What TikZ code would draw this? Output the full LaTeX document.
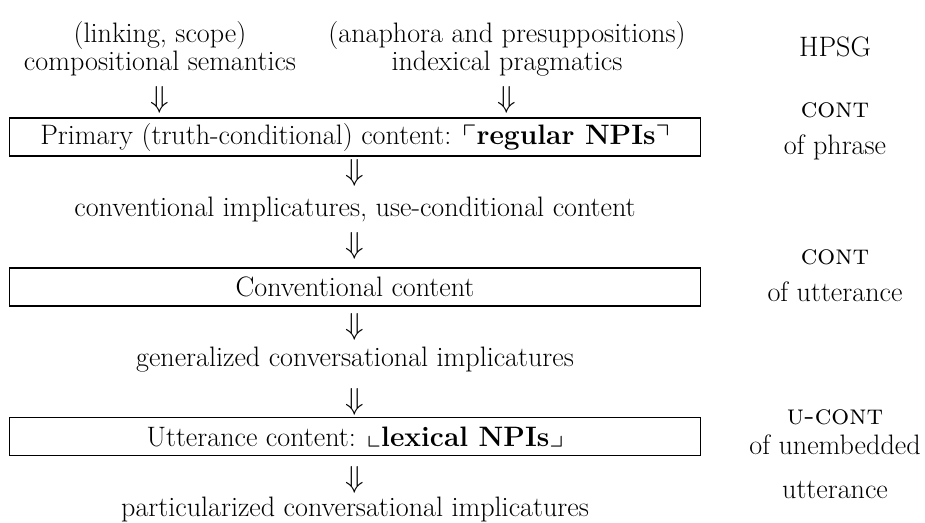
\documentclass[tikz,border=0pt]{standalone}
\usepackage{amssymb}
\begin{document}
\begin{tikzpicture}[x=0.02cm,y=-0.02cm,every node/.style={font=\fontsize{16}{19}\selectfont,inner sep=0pt},txt/.style={anchor=base},dn/.style={anchor=center},level/.style={draw,line width=0.6pt,minimum width=13.84cm,minimum height=0.76cm},hpsg/.style={anchor=base}]
\def\cx{355};
\def\lx{160};
\def\rx{507};
\def\hx{835};

\useasboundingbox (0,0) rectangle (925,523);

% input sources
\node[txt] (link) at (\lx,43) {(linking, scope)};
\node[txt] (comp) at (\lx,71) {compositional semantics};
\node[txt] (ana) at (\rx,43) {(anaphora and presuppositions)};
\node[txt] (idx) at (\rx,71) {indexical pragmatics};
\node[dn] (dnA) at (\lx,100) {$\Downarrow$};
\node[dn] (dnB) at (\rx,100) {$\Downarrow$};

% levels
\node[level] (prim) at (\cx,137) {Primary (truth-conditional) content: $\ulcorner$\textbf{regular NPIs}$\urcorner$};
\node[dn] (dn1) at (\cx,173) {$\Downarrow$};
\node[txt] (ci) at (\cx,217) {conventional implicatures, use-conditional content};
\node[dn] (dn2) at (\cx,246) {$\Downarrow$};
\node[level] (conv) at (\cx,287) {Conventional content};
\node[dn] (dn3) at (\cx,327) {$\Downarrow$};
\node[txt] (gci) at (\cx,366) {generalized conversational implicatures};
\node[dn] (dn4) at (\cx,402) {$\Downarrow$};
\node[level] (utt) at (\cx,436.5) {Utterance content: $\llcorner$\textbf{lexical NPIs}$\lrcorner$};
\node[dn] (dn5) at (\cx,480) {$\Downarrow$};
\node[txt] (pci) at (\cx,516) {particularized conversational implicatures};

% HPSG column
\node[hpsg] (hpsg) at (\hx,57) {HPSG};
\node[hpsg] (cont1) at (\hx,118) {\textsc{cont}};
\node[hpsg] (phr) at (\hx,155) {of phrase};
\node[hpsg] (cont2) at (\hx,264) {\textsc{cont}};
\node[hpsg] (uttc) at (\hx,301) {of utterance};
\node[hpsg] (ucont) at (\hx,424) {\textsc{u-cont}};
\node[hpsg] (unemb) at (\hx,454) {of unembedded};
\node[hpsg] (utt2) at (\hx,498) {utterance};
\end{tikzpicture}
\end{document}
